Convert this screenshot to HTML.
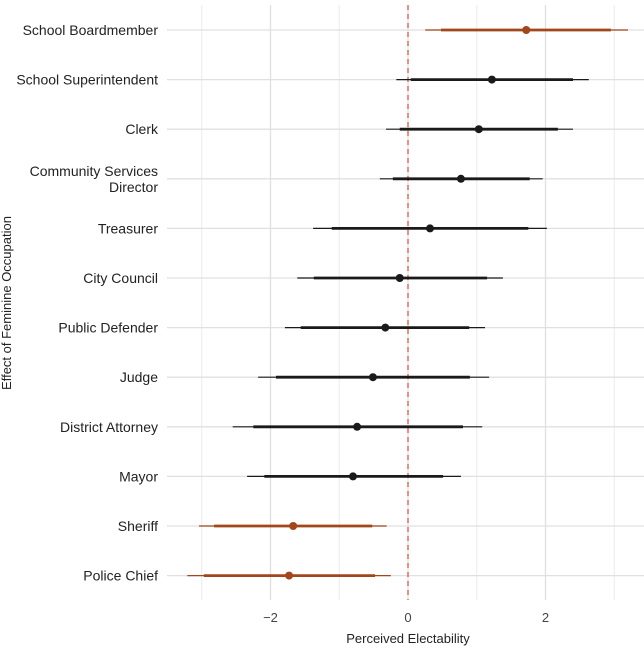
<!DOCTYPE html>
<html><head><meta charset="utf-8"><style>
body{margin:0;background:#fff;}
svg{display:block;font-family:"Liberation Sans",Arial,sans-serif;}
</style></head><body>
<svg id="chart" width="644" height="648"></svg>
<script>
const categories=["School Boardmember","School Superintendent","Clerk","Community Services Director","Treasurer","City Council","Public Defender","Judge","District Attorney","Mayor","Sheriff","Police Chief"];
const estimates=[1.72,1.22,1.03,0.77,0.32,-0.12,-0.33,-0.51,-0.74,-0.80,-1.67,-1.73];
const outerLow=[0.25,-0.17,-0.32,-0.41,-1.38,-1.61,-1.79,-2.18,-2.55,-2.34,-3.04,-3.21];
const outerHigh=[3.2,2.63,2.4,1.96,2.02,1.38,1.12,1.18,1.08,0.77,-0.31,-0.25];
const innerLow=[0.48,0.04,-0.12,-0.22,-1.11,-1.37,-1.56,-1.92,-2.25,-2.09,-2.82,-2.97];
const innerHigh=[2.95,2.4,2.18,1.77,1.75,1.15,0.89,0.9,0.8,0.51,-0.52,-0.48];
const highlighted=[true,false,false,false,false,false,false,false,false,false,true,true];
const xTicks=[-2,0,2];
const xMinor=[-3,-1,1,3];

const svg=document.getElementById('chart');
const NS="http://www.w3.org/2000/svg";
const L=167,R=644;
function x(v){return 408+v*68.75;}
function y(i){return 30+i*49.6;}
function mk(t,a,p){const e=document.createElementNS(NS,t);for(const k in a)e.setAttribute(k,a[k]);(p||svg).appendChild(e);return e;}

const grid=mk('g',{});


xMinor.forEach(v=>mk('line',{x1:x(v),x2:x(v),y1:5,y2:600,stroke:'#ebebeb','stroke-width':1},grid));
xTicks.forEach(v=>mk('line',{x1:x(v),x2:x(v),y1:5,y2:600,stroke:'#e0e0e0','stroke-width':1.3},grid));
categories.forEach((c,i)=>mk('line',{x1:L,x2:R,y1:y(i),y2:y(i),stroke:'#e0e0e0','stroke-width':1.3},grid));

const ref=mk('line',{x1:x(0),x2:x(0),y1:5,y2:600,stroke:'#e8493a','stroke-width':1.2,'stroke-dasharray':'5,4'});



categories.forEach((c,i)=>{
  const col=highlighted[i]?'#a3461c':'#1a1a1a';
  const g=mk('g',{});
  
  
  mk('line',{x1:x(outerLow[i]),x2:x(outerHigh[i]),y1:y(i),y2:y(i),stroke:col,'stroke-width':1.2},g);
  mk('line',{x1:x(innerLow[i]),x2:x(innerHigh[i]),y1:y(i),y2:y(i),stroke:col,'stroke-width':2.8},g);
  mk('circle',{cx:x(estimates[i]),cy:y(i),r:4,fill:col},g);
  const lbl=c==="Community Services Director"?["Community Services","Director"]:[c];
  lbl.forEach((s,k)=>{
    const t=mk('text',{x:158,y:y(i)+5+(lbl.length>1?(k===0?-8:8):0),'text-anchor':'end','font-size':14,fill:'#222'});
    t.textContent=s;
    
    
  });
});
xTicks.forEach(v=>{
  const t=mk('text',{x:x(v),y:622,'text-anchor':'middle','font-size':13,fill:'#444'});
  t.textContent=v<0?'\u2212'+(-v):String(v);
  
  
});
const xt=mk('text',{x:408,y:643,'text-anchor':'middle','font-size':13,fill:'#222'});
xt.textContent='Perceived Electability';


const yt=mk('text',{x:0,y:0,'text-anchor':'middle','font-size':13,fill:'#222',transform:'translate(11,303) rotate(-90)'});
yt.textContent='Effect of Feminine Occupation';


</script>
</body></html>
